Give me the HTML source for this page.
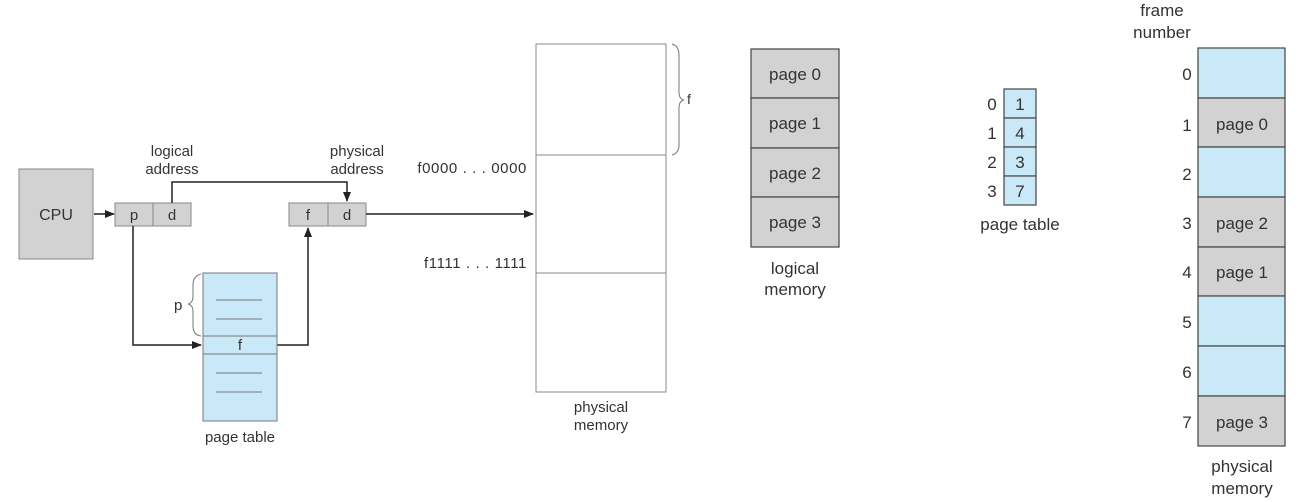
<!DOCTYPE html>
<html><head><meta charset="utf-8"><style>
html,body{margin:0;padding:0;background:#fff;}
svg{display:block;}
text{font-family:"Liberation Sans",sans-serif;fill:#333;}
</style></head><body>
<svg width="1303" height="502" viewBox="0 0 1303 502" xmlns="http://www.w3.org/2000/svg">
<defs><marker id="a" markerWidth="10" markerHeight="8" refX="9" refY="4" orient="auto" markerUnits="userSpaceOnUse"><path d="M0,0 L10,4 L0,8 z" fill="#222"/></marker></defs>
<rect x="19" y="169" width="74" height="90" fill="#d2d2d2" stroke="#888"/>
<text x="56" y="220" font-size="16" text-anchor="middle">CPU</text>
<line x1="94" y1="214" x2="114" y2="214" stroke="#222" stroke-width="1.5" marker-end="url(#a)"/>
<rect x="115" y="203" width="38" height="23" fill="#d2d2d2" stroke="#888"/>
<rect x="153" y="203" width="38" height="23" fill="#d2d2d2" stroke="#888"/>
<text x="134" y="220" font-size="15" text-anchor="middle">p</text>
<text x="172" y="220" font-size="15" text-anchor="middle">d</text>
<text x="172" y="156" font-size="15" text-anchor="middle">logical</text>
<text x="172" y="174" font-size="15" text-anchor="middle">address</text>
<rect x="289" y="203" width="39" height="23" fill="#d2d2d2" stroke="#888"/>
<rect x="328" y="203" width="38" height="23" fill="#d2d2d2" stroke="#888"/>
<text x="308" y="220" font-size="15" text-anchor="middle">f</text>
<text x="347" y="220" font-size="15" text-anchor="middle">d</text>
<text x="357" y="156" font-size="15" text-anchor="middle">physical</text>
<text x="357" y="174" font-size="15" text-anchor="middle">address</text>
<polyline points="172,203 172,182 347,182 347,201" fill="none" stroke="#222" stroke-width="1.5" marker-end="url(#a)"/>
<polyline points="133,226 133,345 201,345" fill="none" stroke="#222" stroke-width="1.5" marker-end="url(#a)"/>
<polyline points="277,345 308,345 308,228" fill="none" stroke="#222" stroke-width="1.5" marker-end="url(#a)"/>
<line x1="366" y1="214" x2="533" y2="214" stroke="#222" stroke-width="1.5" marker-end="url(#a)"/>
<rect x="203" y="273" width="74" height="148" fill="#c9e9f8" stroke="#777"/>
<line x1="203" y1="336" x2="277" y2="336" stroke="#777"/>
<line x1="203" y1="354" x2="277" y2="354" stroke="#777"/>
<line x1="216" y1="300" x2="262" y2="300" stroke="#777"/>
<line x1="216" y1="319" x2="262" y2="319" stroke="#777"/>
<line x1="216" y1="373" x2="262" y2="373" stroke="#777"/>
<line x1="216" y1="392" x2="262" y2="392" stroke="#777"/>
<text x="240" y="350" font-size="15" text-anchor="middle">f</text>
<path d="M201,274 Q193,276 193,285 L193,296 Q193,303 188,304 Q193,305 193,312 L193,326 Q193,335 201,336" fill="none" stroke="#777"/>
<text x="174" y="310" font-size="15">p</text>
<text x="240" y="442" font-size="15" text-anchor="middle">page table</text>
<rect x="536" y="44" width="130" height="348" fill="#fff" stroke="#888"/>
<line x1="536" y1="155" x2="666" y2="155" stroke="#888"/>
<line x1="536" y1="273" x2="666" y2="273" stroke="#888"/>
<path d="M672,44 Q679,46 679,55 L679,92 Q679,99 684,100 Q679,101 679,108 L679,145 Q679,153 672,155" fill="none" stroke="#777"/>
<text x="687" y="104" font-size="14">f</text>
<text x="527" y="173" font-size="15" letter-spacing="0.6" text-anchor="end">f0000 . . . 0000</text>
<text x="527" y="268" font-size="15" letter-spacing="0.6" text-anchor="end">f1111 . . . 1111</text>
<text x="601" y="412" font-size="15" text-anchor="middle">physical</text>
<text x="601" y="430" font-size="15" text-anchor="middle">memory</text>
<g stroke="#444" stroke-width="1.2" fill="#d2d2d2">
<rect x="751" y="49" width="88" height="49"/>
<rect x="751" y="98" width="88" height="50"/>
<rect x="751" y="148" width="88" height="49"/>
<rect x="751" y="197" width="88" height="50"/>
</g>
<text x="795" y="80" font-size="17" text-anchor="middle">page 0</text>
<text x="795" y="129" font-size="17" text-anchor="middle">page 1</text>
<text x="795" y="179" font-size="17" text-anchor="middle">page 2</text>
<text x="795" y="228" font-size="17" text-anchor="middle">page 3</text>
<text x="795" y="274" font-size="17" text-anchor="middle">logical</text>
<text x="795" y="295" font-size="17" text-anchor="middle">memory</text>
<g stroke="#444" stroke-width="1.2" fill="#c9e9f8">
<rect x="1004" y="89" width="32" height="29"/>
<rect x="1004" y="118" width="32" height="29"/>
<rect x="1004" y="147" width="32" height="29"/>
<rect x="1004" y="176" width="32" height="29"/>
</g>
<g font-size="17">
<text x="1020" y="110" text-anchor="middle">1</text>
<text x="1020" y="139" text-anchor="middle">4</text>
<text x="1020" y="168" text-anchor="middle">3</text>
<text x="1020" y="197" text-anchor="middle">7</text>
<text x="992" y="110" text-anchor="middle">0</text>
<text x="992" y="139" text-anchor="middle">1</text>
<text x="992" y="168" text-anchor="middle">2</text>
<text x="992" y="197" text-anchor="middle">3</text>
</g>
<text x="1020" y="230" font-size="17" text-anchor="middle">page table</text>
<text x="1162" y="16" font-size="17" text-anchor="middle">frame</text>
<text x="1162" y="38" font-size="17" text-anchor="middle">number</text>
<g stroke="#444" stroke-width="1.2">
<rect x="1198" y="48" width="87" height="50" fill="#c9e9f8"/>
<rect x="1198" y="98" width="87" height="49" fill="#d2d2d2"/>
<rect x="1198" y="147" width="87" height="50" fill="#c9e9f8"/>
<rect x="1198" y="197" width="87" height="50" fill="#d2d2d2"/>
<rect x="1198" y="247" width="87" height="49" fill="#d2d2d2"/>
<rect x="1198" y="296" width="87" height="50" fill="#c9e9f8"/>
<rect x="1198" y="346" width="87" height="50" fill="#c9e9f8"/>
<rect x="1198" y="396" width="87" height="50" fill="#d2d2d2"/>
</g>
<g font-size="17">
<text x="1187" y="80" text-anchor="middle">0</text>
<text x="1187" y="131" text-anchor="middle">1</text>
<text x="1187" y="180" text-anchor="middle">2</text>
<text x="1187" y="229" text-anchor="middle">3</text>
<text x="1187" y="278" text-anchor="middle">4</text>
<text x="1187" y="328" text-anchor="middle">5</text>
<text x="1187" y="378" text-anchor="middle">6</text>
<text x="1187" y="428" text-anchor="middle">7</text>
<text x="1242" y="130" text-anchor="middle">page 0</text>
<text x="1242" y="229" text-anchor="middle">page 2</text>
<text x="1242" y="278" text-anchor="middle">page 1</text>
<text x="1242" y="428" text-anchor="middle">page 3</text>
</g>
<text x="1242" y="472" font-size="17" text-anchor="middle">physical</text>
<text x="1242" y="494" font-size="17" text-anchor="middle">memory</text>
</svg>
</body></html>
